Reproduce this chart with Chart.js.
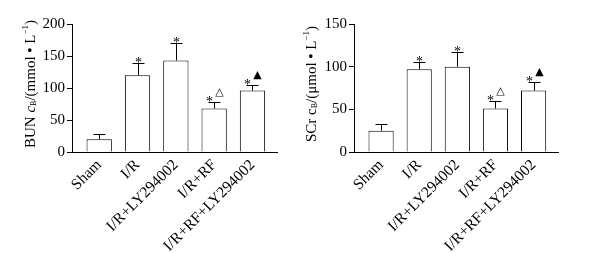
<!DOCTYPE html>
<html>
<head>
<meta charset="utf-8">
<script src="https://cdn.jsdelivr.net/npm/chart.js@4.4.1/dist/chart.umd.min.js"></script>
<style>
  html, body { margin: 0; padding: 0; background: #fff; }
  .panel { position: absolute; top: 0; width: 300px; height: 253px; }
</style>
</head>
<body>
<div class="panel" style="left:0"><canvas id="bunChart" width="300" height="253"></canvas></div>
<div class="panel" style="left:300px"><canvas id="scrChart" width="300" height="253"></canvas></div>
<script>
const groups = ['Sham', 'I/R', 'I/R+LY294002', 'I/R+RF', 'I/R+RF+LY294002'];
const bunMean = [20, 120, 143, 68, 96];
const bunSd = [8, 19, 28, 10, 8];
const scrMean = [25, 97, 100, 51, 72];
const scrSd = [8, 9, 17, 9, 10];
const starMarks = ['', '*', '*', '*', '*'];
const extraMarks = ['', '', '', '△', '▲'];

const serif = '"Liberation Serif", "Times New Roman", serif';

// error bars + significance marks, drawn from the scales
const errorBars = {
    id: 'errorBars',
    afterDatasetsDraw(chart, args, opts) {
        const {ctx, scales: {x, y}} = chart;
        ctx.save();
        ctx.strokeStyle = '#000';
        ctx.fillStyle = '#000';
        ctx.lineWidth = 1;
        opts.mean.forEach((m, i) => {
            const cx = Math.round(x.getPixelForValue(i)) + 0.5;
            const yTop = Math.round(y.getPixelForValue(m + opts.sd[i])) + 0.5;
            const yBar = y.getPixelForValue(m);
            ctx.beginPath();
            ctx.moveTo(cx, yBar);
            ctx.lineTo(cx, yTop);
            ctx.moveTo(cx - 6, yTop);
            ctx.lineTo(cx + 6, yTop);
            ctx.stroke();

            const extra = extraMarks[i];
            if (starMarks[i]) {
                ctx.font = '14px ' + serif;
                ctx.textAlign = 'center';
                ctx.textBaseline = 'alphabetic';
                ctx.fillText(starMarks[i], extra ? cx - 5 : cx, yTop + 3);
            }
            if (extra) {
                ctx.font = '11px "DejaVu Sans"';
                ctx.textAlign = 'center';
                ctx.textBaseline = 'middle';
                ctx.fillText(extra, cx + 5, yTop - 10);
            }
        });
        ctx.restore();
    }
};

// rotated y title with subscript / superscript parts
const yTitle = {
    id: 'yTitle',
    afterDraw(chart, args, opts) {
        const {ctx} = chart;
        ctx.save();
        ctx.translate(opts.x, opts.y);
        ctx.rotate(-Math.PI / 2);
        ctx.fillStyle = '#000';
        ctx.textBaseline = 'middle';
        ctx.textAlign = 'left';
        let total = 0;
        for (const p of opts.parts) {
            ctx.font = p.font;
            total += ctx.measureText(p.text).width;
        }
        let pos = -total / 2;
        for (const p of opts.parts) {
            ctx.font = p.font;
            ctx.fillText(p.text, pos, p.dy || 0);
            pos += ctx.measureText(p.text).width;
        }
        ctx.restore();
    }
};

const makeChart = (canvas, mean, sd, yMax, axisWidth, rightPad, titleX, titleParts) => {
    return new Chart(canvas, {
        type: 'bar',
        data: {
            datasets: [{
                data: mean.map((v, i) => ({x: i, y: v})),
                backgroundColor: '#fff',
                borderColor: '#000',
                borderWidth: 1,
                categoryPercentage: 1,
                barPercentage: 0.66
            }]
        },
        options: {
            responsive: false,
            animation: false,
            layout: {padding: {top: 24, right: rightPad, bottom: 0, left: 0}},
            plugins: {
                legend: {display: false},
                tooltip: {enabled: false},
                errorBars: {mean, sd},
                yTitle: {x: titleX, y: 84, parts: titleParts}
            },
            scales: {
                x: {
                    type: 'linear',
                    offset: false,
                    min: -0.71,
                    max: 4.64,
                    afterFit: (s) => { s.height = 101; },
                    grid: {display: false, drawTicks: false},
                    border: {color: '#000', width: 1},
                    ticks: {
                        stepSize: 1,
                        includeBounds: false,
                        autoSkip: false,
                        minRotation: 45,
                        maxRotation: 45,
                        padding: 4,
                        color: '#000',
                        font: {family: serif, size: 15.5},
                        callback: (v) => groups[v] ?? ''
                    }
                },
                y: {
                    min: 0,
                    max: yMax,
                    afterFit: (s) => { s.width = axisWidth; },
                    grid: {drawOnChartArea: false, tickLength: 5, color: '#000'},
                    border: {color: '#000', width: 1},
                    ticks: {
                        stepSize: 50,
                        padding: 2,
                        color: '#000',
                        font: {family: serif, size: 15}
                    }
                }
            }
        },
        plugins: [errorBars, yTitle]
    });
};

const f = (size, style) => (style ? style + ' ' : '') + size + 'px ' + serif;

makeChart(document.getElementById('bunChart'), bunMean, bunSd, 200, 72, 23, 31, [
    {text: 'BUN ', font: f(15)},
    {text: 'c', font: f(15, 'italic')},
    {text: 'B', font: f(8), dy: 3},
    {text: '/(mmol • L', font: f(15)},
    {text: '−1', font: f(9), dy: -5},
    {text: ')', font: f(15)}
]);

makeChart(document.getElementById('scrChart'), scrMean, scrSd, 150, 54, 42, 12, [
    {text: 'SCr ', font: f(15)},
    {text: 'c', font: f(15)},
    {text: 'B', font: f(8), dy: 3},
    {text: '/(μmol • L', font: f(15)},
    {text: '−1', font: f(9), dy: -5},
    {text: ')', font: f(15)}
]);
</script>
</body>
</html>
